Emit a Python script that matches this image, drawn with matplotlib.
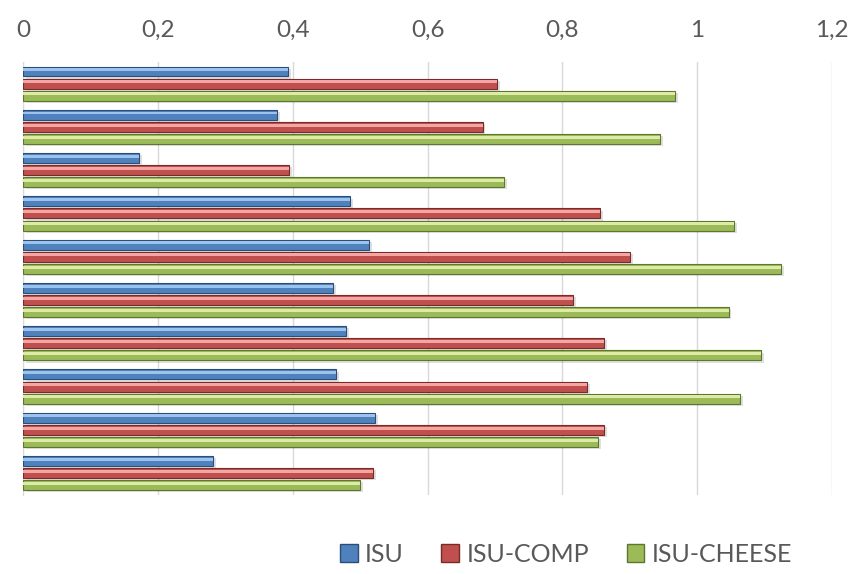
import matplotlib.pyplot as plt
import numpy as np

series = ['ISU', 'ISU-COMP', 'ISU-CHEESE']
isu = [0.393, 0.377, 0.172, 0.485, 0.513, 0.460, 0.479, 0.464, 0.522, 0.282]
isu_comp = [0.703, 0.682, 0.395, 0.856, 0.901, 0.816, 0.862, 0.837, 0.862, 0.519]
isu_cheese = [0.967, 0.945, 0.714, 1.055, 1.125, 1.047, 1.095, 1.064, 0.853, 0.500]
xticks = [0, 0.2, 0.4, 0.6, 0.8, 1.0, 1.2]
xtick_labels = ['0', '0,2', '0,4', '0,6', '0,8', '1', '1,2']

base = ['#4F81BD', '#C0504D', '#9BBB59']
light = ['#9CC3EE', '#F4A6A4', '#DDEBA6']
dark = ['#2C4D75', '#772C2A', '#5F7530']

plt.rcParams['font.family'] = ['Lato', 'DejaVu Sans']

fig = plt.figure(figsize=(8.55, 5.74), dpi=100)
ax = fig.add_axes([0.027, 0.138, 0.946, 0.754])

n = len(isu)
y = np.arange(n)
pitch = 0.28
h = 0.23

for i, vals in enumerate([isu, isu_comp, isu_cheese]):
    pos = y + (i - 1) * pitch
    # shadow, body, top highlight
    ax.barh(pos + 0.05, vals, height=h, left=0.004, color='#000000', alpha=0.12, zorder=2)
    ax.barh(pos, vals, height=h, color=base[i], edgecolor=dark[i], linewidth=0.8, zorder=3)
    ax.barh(pos - h * 0.18, vals, height=h * 0.3, color=light[i], linewidth=0, zorder=4)

ax.set_xlim(0, 1.2)
ax.set_ylim(n - 0.5, -0.5)
ax.set_yticks([])
ax.set_xticks(xticks)
ax.set_xticklabels(xtick_labels)
ax.xaxis.tick_top()
ax.tick_params(axis='x', length=0, pad=15, labelsize=17.5, labelcolor='#595959')
ax.grid(axis='x', color='#D9D9D9', linewidth=1, zorder=0)
ax.set_axisbelow(True)
for s in ['top', 'right', 'bottom']:
    ax.spines[s].set_visible(False)
ax.spines['left'].set_color('#D9D9D9')

handles = [plt.Rectangle((0, 0), 1, 1, facecolor=base[i], edgecolor=dark[i]) for i in range(3)]
fig.legend(handles, series, loc='center', bbox_to_anchor=(0.662, 0.034), ncol=3,
           frameon=False, fontsize=18, labelcolor='#595959', handlelength=0.7,
           handleheight=0.7, handletextpad=0.3, columnspacing=1.5)

fig.savefig('out.png', dpi=100)
